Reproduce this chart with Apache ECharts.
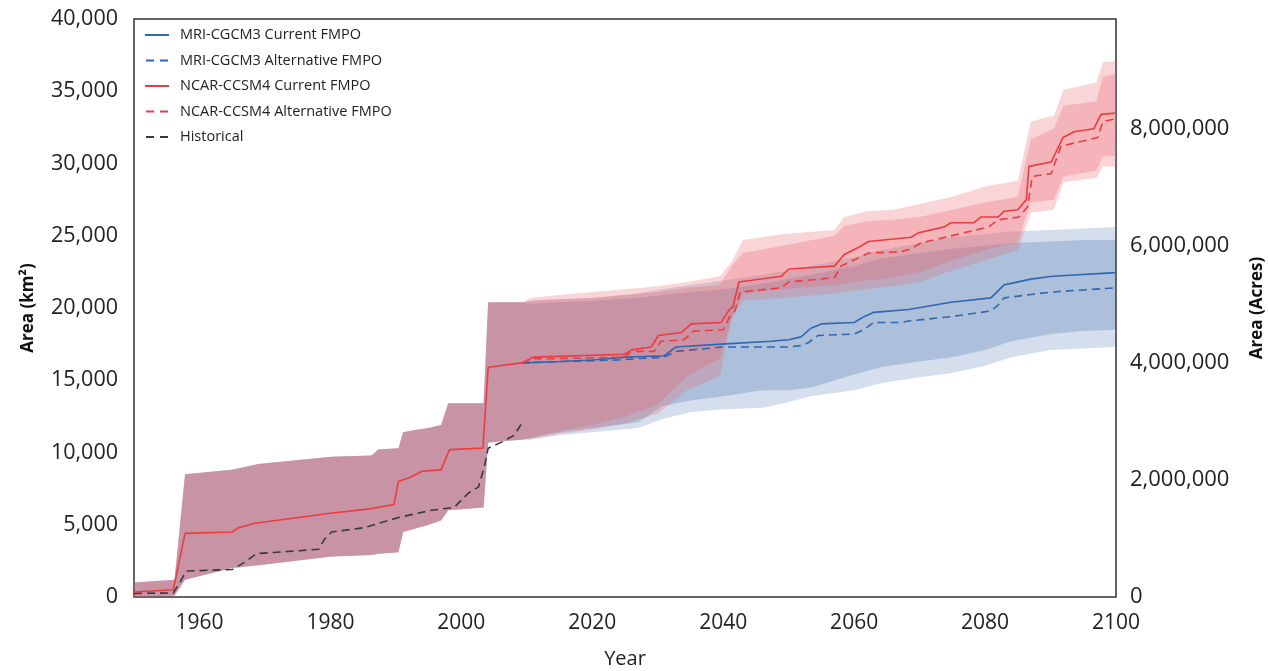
<!DOCTYPE html>
<html><head><meta charset="utf-8">
<script src="https://cdn.jsdelivr.net/npm/echarts@6.0.0/dist/echarts.min.js"></script>
<style>html,body{margin:0;padding:0;background:#fff}#chart{width:1268px;height:671px}</style>
</head><body><div id="chart"></div>
<script>
// ---------- DATA ----------
const leftTicksKm2 = [0, 5000, 10000, 15000, 20000, 25000, 30000, 35000, 40000];
const rightTicksAcres = [0, 2000000, 4000000, 6000000, 8000000];
const ACRES_PER_KM2 = 247.105;

// shared historical uncertainty band [year, low, high] (km2)
const histBand = [
  [1950, 0, 1000], [1956.2, 100, 1200], [1957.8, 1200, 8500], [1965, 2000, 8800],
  [1969, 2200, 9200], [1980.2, 2800, 9700], [1986.3, 2900, 9800], [1987.3, 3000, 10200],
  [1990.4, 3100, 10300], [1991.1, 4500, 11400], [1993.4, 4800, 11600], [1995, 5000, 11700],
  [1996.9, 5300, 11900], [1998, 6000, 13400], [2003.4, 6200, 13400], [2004.1, 10700, 20400],
  [2009.5, 10900, 20400]
];
// future bands [year, outerLow, innerLow, innerHigh, outerHigh]
const mriBand = [
  [2010.5, 10900, 11000, 20300, 20500], [2015, 11200, 11400, 20400, 20600],
  [2020, 11400, 11700, 20500, 20700], [2027, 11700, 12100, 20700, 21000],
  [2030.6, 12300, 13200, 20900, 21300], [2035, 12800, 13600, 21100, 21600],
  [2040, 13000, 13900, 21300, 21900], [2046, 13100, 14300, 21700, 22300],
  [2050, 13500, 14300, 22000, 22600], [2053.4, 13900, 14500, 22300, 22900],
  [2060, 14300, 15400, 22900, 23500], [2064, 14800, 15900, 23400, 24000],
  [2070, 15200, 16300, 23800, 24500], [2075, 15500, 16600, 24100, 24900],
  [2080, 16000, 17100, 24300, 25100], [2084, 16600, 17700, 24500, 25300],
  [2090, 17100, 18200, 24600, 25400], [2095, 17200, 18400, 24700, 25500],
  [2100, 17300, 18500, 24700, 25600]
];
const ncarBand = [
  [2010.5, 10900, 11000, 20500, 20700], [2015, 11300, 11500, 20600, 20900],
  [2020, 11600, 11900, 20700, 21100], [2025, 12000, 12500, 20900, 21300],
  [2030, 12700, 13300, 21100, 21500], [2034.5, 14300, 15300, 21400, 21800],
  [2039.5, 15300, 16500, 21600, 22200], [2041.3, 19300, 19200, 22900, 23200],
  [2043, 20500, 21000, 23800, 24700], [2049, 20700, 21300, 24300, 25100],
  [2057, 21000, 21600, 25000, 25400], [2058.5, 21100, 21700, 25700, 26300],
  [2062, 21300, 21900, 26000, 26700], [2066, 21500, 22100, 26100, 26800],
  [2070, 21800, 22500, 26300, 27200], [2075, 22600, 23300, 26800, 27700],
  [2080, 23300, 24000, 27300, 28400], [2085, 24000, 24600, 27700, 28800],
  [2087, 26600, 27300, 31700, 32900], [2090.5, 26800, 27500, 32400, 33300],
  [2092, 28700, 29100, 34000, 35100], [2097, 29000, 29500, 34300, 35600],
  [2098, 29800, 30500, 36000, 37000], [2100, 29800, 30500, 36200, 37100]
];

const ncarCurrent = [
  [1950,350],[1956,500],[1957.8,4400],[1965,4500],[1966,4800],[1968.5,5100],[1980,5800],
  [1986,6100],[1989.7,6400],[1990.4,8000],[1992.3,8300],[1994,8700],[1996.9,8800],
  [1998.2,10200],[2003.3,10300],[2004.1,15900],[2009.2,16200],[2011,16600],[2024.9,16800],
  [2026,17100],[2029,17300],[2030.1,18100],[2033.6,18300],[2035.1,18900],[2039.7,19000],
  [2040.8,19800],[2041.5,20100],[2042.4,21800],[2048.9,22200],[2050,22700],[2057,22900],
  [2058.5,23700],[2060.7,24200],[2062.2,24600],[2068.7,24900],[2069.8,25200],[2073.7,25600],
  [2074.8,25900],[2078.3,25900],[2079.4,26300],[2082,26300],[2082.9,26700],[2085,26800],
  [2086.3,27500],[2086.7,29800],[2090.1,30100],[2091.9,31800],[2093.6,32200],[2096.6,32400],
  [2097.7,33400],[2100,33500]
];
const ncarAlternative = [
  [2009.2,16200],[2011,16500],[2015,16500],[2024.9,16600],[2026,17000],[2029.5,17000],
  [2030.5,17700],[2034,17800],[2035.5,18400],[2040,18500],[2041,19400],[2041.8,19800],
  [2042.6,21100],[2048.9,21400],[2050,21800],[2057,22100],[2058,22900],[2062.2,23800],
  [2067.2,23900],[2068.7,24100],[2070.2,24500],[2080.5,25600],[2082,26100],[2085.2,26300],
  [2086.5,27000],[2087.2,29100],[2090.1,29300],[2091.6,31200],[2097.2,31800],[2098,32900],
  [2100,33100]
];
const mriCurrent = [
  [2009.2,16200],[2015.3,16300],[2020,16400],[2025,16600],[2031,16700],[2032.8,17300],
  [2039.7,17500],[2047.3,17700],[2050,17800],[2051.9,18000],[2053.4,18600],[2055,18900],
  [2060,19000],[2061.5,19400],[2063,19700],[2068.3,19900],[2074.8,20400],[2080.9,20700],
  [2082.9,21600],[2087,22000],[2090.3,22200],[2100,22450]
];
const mriAlternative = [
  [2009.2,16200],[2015.3,16300],[2024,16400],[2027,16500],[2031,16600],[2032.8,17000],
  [2040,17300],[2050,17300],[2051.9,17400],[2053,17600],[2054.5,18100],[2060,18200],
  [2061.5,18500],[2063,19000],[2067.2,19000],[2068.3,19100],[2074.8,19400],[2080.9,19800],
  [2082,20200],[2082.9,20700],[2090,21100],[2100,21400]
];
const historical = [
  [1950,250],[1956,280],[1957,1000],[1958,1800],[1965,1900],[1966.9,2400],[1968.7,3000],
  [1978.2,3300],[1979.1,4000],[1980.2,4500],[1985.2,4800],[1990.4,5500],[1995.4,6000],
  [1998.9,6200],[2001.1,7200],[2002.6,7600],[2003.5,9000],[2004.1,10300],[2006.1,10700],
  [2008.1,11200],[2009.2,12000]
];

// ---------- CHART ----------
const FONT = '"Open Sans", "Noto Sans", sans-serif';
const fullBand = (fut) => histBand.map(r => [r[0], r[1], r[1], r[2], r[2]]).concat(fut);
const mriFull = fullBand(mriBand), ncarFull = fullBand(ncarBand);

function bandSeries(name, band, lo, hi, fill) {
  return {
    name, type: 'custom', silent: true, clip: true, data: [[band[0][0], band[0][lo]]],
    encode: { x: 0, y: 1 },
    renderItem: function (params, api) {
      const top = band.map(r => api.coord([r[0], r[hi]]));
      const bot = band.map(r => api.coord([r[0], r[lo]])).reverse();
      return { type: 'polygon', shape: { points: top.concat(bot) }, style: { fill: fill } };
    },
    z: 1
  };
}
function lineSeries(name, data, color, dashed, z) {
  return {
    name, type: 'line', data, showSymbol: false, symbol: 'none', z: z || 3,
    lineStyle: { color, width: 1.6, type: dashed ? [8, 5] : 'solid' },
    itemStyle: { color }, animation: false
  };
}
const fmt = v => Math.round(v).toLocaleString('en-US');
const BLUE = '#2f67b1', RED = '#ec3c3f', HIST = '#3a3a3a';
const SOLID_ICON = 'path://M0,0h24v2H0z';
const DASH_ICON = 'path://M0,0h8v2H0zM14,0h8v2h-8z';

const chart = echarts.init(document.getElementById('chart'), null, { renderer: 'canvas' });
chart.setOption({
  animation: false,
  backgroundColor: '#fff',
  textStyle: { fontFamily: FONT },
  grid: { left: 134, right: 152, top: 19, bottom: 74, show: true, borderColor: '#333', borderWidth: 1.5,
          containLabel: false, outerBoundsMode: 'none' },
  legend: {
    orient: 'vertical', left: 140, top: 22, itemWidth: 24, itemHeight: 2, itemGap: 9.5,
    textStyle: { fontFamily: FONT, fontSize: 14.5, color: '#222', lineHeight: 16, padding: [0, 0, 0, 6] },
    data: [
      { name: 'MRI-CGCM3 Current FMPO', icon: SOLID_ICON },
      { name: 'MRI-CGCM3 Alternative FMPO', icon: DASH_ICON },
      { name: 'NCAR-CCSM4 Current FMPO', icon: SOLID_ICON },
      { name: 'NCAR-CCSM4 Alternative FMPO', icon: DASH_ICON },
      { name: 'Historical', icon: DASH_ICON }
    ]
  },
  xAxis: {
    type: 'value', min: 1950, max: 2100, interval: 10,
    name: 'Year', nameLocation: 'middle', nameGap: 52,
    nameTextStyle: { fontFamily: FONT, fontSize: 20, color: '#222' },
    axisLine: { show: false }, axisTick: { show: false }, splitLine: { show: false },
    axisLabel: { fontFamily: FONT, fontSize: 21, color: '#222', margin: 16,
      formatter: v => (v % 20 === 0) ? String(v) : '' }
  },
  yAxis: [{
    type: 'value', min: leftTicksKm2[0], max: leftTicksKm2[leftTicksKm2.length - 1], interval: 5000,
    name: 'Area (km²)', nameLocation: 'middle', nameGap: 97, nameRotate: 90,
    nameTextStyle: { fontFamily: FONT, fontSize: 17, fontWeight: 'bold', color: '#111' },
    axisLine: { show: false }, axisTick: { show: false }, splitLine: { show: false },
    axisLabel: { fontFamily: FONT, fontSize: 21.5, color: '#222', margin: 16, formatter: fmt }
  }, {
    type: 'value', position: 'right', min: 0, max: leftTicksKm2[leftTicksKm2.length - 1] * ACRES_PER_KM2,
    interval: rightTicksAcres[1] - rightTicksAcres[0],
    name: 'Area (Acres)', nameLocation: 'middle', nameGap: 133, nameRotate: 90,
    nameTextStyle: { fontFamily: FONT, fontSize: 17, fontWeight: 'bold', color: '#111' },
    axisLine: { show: false }, axisTick: { show: false }, splitLine: { show: false },
    axisLabel: { fontFamily: FONT, fontSize: 22, color: '#222', margin: 14, formatter: fmt, showMaxLabel: false }
  }],
  series: [
    bandSeries('mriOuter', mriFull, 1, 4, 'rgba(40,90,160,0.20)'),
    bandSeries('mriInner', mriFull, 2, 3, 'rgba(40,90,160,0.225)'),
    bandSeries('ncarOuter', ncarFull, 1, 4, 'rgba(232,100,110,0.27)'),
    bandSeries('ncarInner', ncarFull, 2, 3, 'rgba(232,100,110,0.29)'),
    lineSeries('Historical', historical, HIST, true, 3),
    lineSeries('MRI-CGCM3 Alternative FMPO', mriAlternative, BLUE, true, 4),
    lineSeries('MRI-CGCM3 Current FMPO', mriCurrent, BLUE, false, 4),
    lineSeries('NCAR-CCSM4 Alternative FMPO', ncarAlternative, RED, true, 5),
    lineSeries('NCAR-CCSM4 Current FMPO', ncarCurrent, RED, false, 5)
  ]
});
</script></body></html>
